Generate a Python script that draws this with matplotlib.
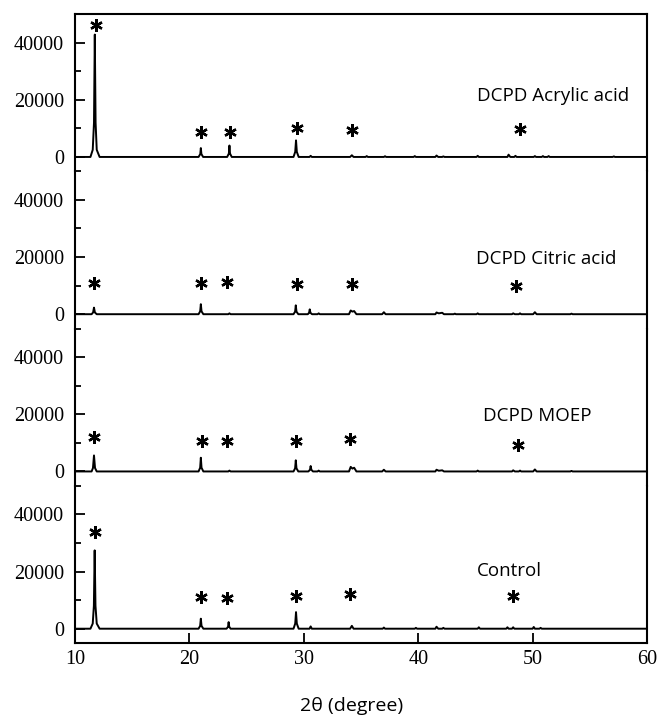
import matplotlib
matplotlib.use("Agg")
import matplotlib.pyplot as plt
from matplotlib.ticker import MultipleLocator

plt.rcParams["font.family"] = "Liberation Serif"
plt.rcParams["xtick.labelsize"] = 14.5
plt.rcParams["ytick.labelsize"] = 14.5

# XRD traces as (2theta, intensity) vertices
acrylic = [
    (10.0, 0),
    (11.35, 0), (11.55, 2500), (11.66, 12000), (11.73, 42800), (11.80, 12000), (11.90, 2500), (12.15, 0),
    (20.80, 0), (20.95, 1000), (21.00, 3100), (21.05, 1000), (21.20, 0),
    (23.30, 0), (23.45, 1200), (23.50, 4000), (23.55, 1200), (23.70, 0),
    (29.10, 0), (29.25, 1800), (29.32, 5800), (29.39, 1800), (29.55, 0),
    (30.50, 0), (30.60, 400), (30.70, 0),
    (34.05, 0), (34.20, 600), (34.35, 0),
    (35.40, 0), (35.50, 300), (35.60, 0),
    (37.00, 0), (37.10, 250), (37.20, 0),
    (39.60, 0), (39.70, 300), (39.80, 0),
    (41.50, 0), (41.60, 500), (41.75, 0), (42.10, 0), (42.20, 200), (42.30, 0),
    (45.10, 0), (45.20, 400), (45.30, 0),
    (47.80, 0), (47.90, 800), (48.05, 0), (48.40, 0), (48.50, 400), (48.60, 0),
    (50.10, 0), (50.20, 300), (50.30, 0), (50.80, 0), (50.90, 300), (51.00, 0),
    (51.30, 0), (51.40, 300), (51.50, 0),
    (57.00, 0), (57.10, 200), (57.20, 0),
    (60.0, 0),
]
citric = [
    (10.0, 0),
    (11.45, 0), (11.58, 600), (11.66, 2300), (11.74, 600), (11.90, 0),
    (20.80, 0), (20.94, 1000), (21.00, 3500), (21.06, 1000), (21.22, 0),
    (23.40, 0), (23.50, 300), (23.60, 0),
    (29.10, 0), (29.24, 900), (29.30, 3100), (29.36, 900), (29.52, 0),
    (30.35, 0), (30.46, 500), (30.52, 1700), (30.58, 500), (30.72, 0),
    (31.20, 0), (31.30, 300), (31.40, 0),
    (33.95, 0), (34.10, 1300), (34.25, 900), (34.40, 1100), (34.60, 0),
    (36.85, 0), (37.00, 700), (37.15, 0),
    (41.50, 0), (41.60, 600), (41.80, 300), (42.10, 500), (42.25, 0),
    (43.10, 0), (43.20, 200), (43.30, 0),
    (45.10, 0), (45.20, 300), (45.30, 0),
    (48.20, 0), (48.30, 300), (48.45, 0), (48.80, 0), (48.90, 300), (49.00, 0),
    (50.05, 0), (50.20, 700), (50.35, 0),
    (53.30, 0), (53.40, 200), (53.50, 0),
    (60.0, 0),
]
moep = [
    (10.0, 0),
    (11.45, 0), (11.57, 1200), (11.66, 5600), (11.75, 1200), (11.90, 0),
    (20.80, 0), (20.94, 1300), (21.00, 4800), (21.06, 1300), (21.22, 0),
    (23.40, 0), (23.50, 300), (23.60, 0),
    (29.10, 0), (29.24, 1100), (29.30, 3900), (29.36, 1100), (29.52, 0),
    (30.40, 0), (30.54, 600), (30.60, 1900), (30.66, 600), (30.80, 0),
    (31.20, 0), (31.30, 300), (31.40, 0),
    (33.95, 0), (34.10, 1600), (34.25, 1000), (34.40, 1300), (34.60, 0),
    (36.85, 0), (37.00, 600), (37.15, 0),
    (41.50, 0), (41.60, 600), (41.80, 250), (42.10, 400), (42.25, 0),
    (45.10, 0), (45.20, 300), (45.30, 0),
    (48.20, 0), (48.30, 400), (48.45, 0), (48.80, 0), (48.90, 300), (49.00, 0),
    (50.05, 0), (50.20, 700), (50.35, 0),
    (53.30, 0), (53.40, 200), (53.50, 0),
    (60.0, 0),
]
control = [
    (10.0, 0),
    (11.35, 0), (11.55, 1800), (11.65, 8000), (11.72, 27400), (11.79, 8000), (11.90, 1800), (12.15, 0),
    (20.80, 0), (20.94, 1000), (21.00, 3500), (21.06, 1000), (21.22, 0),
    (23.25, 0), (23.38, 700), (23.43, 2300), (23.48, 700), (23.60, 0),
    (29.10, 0), (29.25, 1800), (29.32, 5800), (29.39, 1800), (29.55, 0),
    (30.50, 0), (30.60, 800), (30.70, 0),
    (34.05, 0), (34.20, 1000), (34.35, 0),
    (36.90, 0), (37.00, 400), (37.10, 0),
    (39.70, 0), (39.80, 300), (39.90, 0),
    (41.50, 0), (41.60, 700), (41.75, 0), (42.10, 0), (42.20, 300), (42.30, 0),
    (45.20, 0), (45.30, 500), (45.40, 0),
    (47.70, 0), (47.80, 500), (47.90, 0), (48.20, 0), (48.30, 500), (48.40, 0),
    (50.00, 0), (50.10, 600), (50.20, 0), (50.60, 0), (50.70, 300), (50.80, 0),
    (60.0, 0),
]

# asterisk positions marking the DCPD reflections
stars_acrylic = [(11.8, 46100), (21.0, 8900), (23.55, 8900), (29.4, 10000), (34.2, 9400), (48.9, 9700)]
stars_citric = [(11.66, 10800), (21.0, 10800), (23.3, 11300), (29.4, 10500), (34.2, 10500), (48.55, 9700)]
stars_moep = [(11.66, 12000), (21.06, 10500), (23.3, 10800), (29.3, 10800), (34.05, 11400), (48.75, 9300)]
stars_control = [(11.75, 33800), (21.0, 11000), (23.3, 10800), (29.3, 11600), (34.05, 12000), (48.3, 11300)]

labels = ["DCPD Acrylic acid", "DCPD Citric acid", "DCPD MOEP", "Control"]
traces = [acrylic, citric, moep, control]
stars = [stars_acrylic, stars_citric, stars_moep, stars_control]
label_pos = [(58.4, 19500, "right"), (51.2, 17500, "center"), (50.4, 17650, "center"), (48.0, 18600, "center")]

fig = plt.figure(figsize=(6.57, 7.16), dpi=100)
W, H = 657, 716
left_px, right_px, top_px, bot_px = 75, 647, 14, 643
ph = (bot_px - top_px) / 4

axes = []
for i in range(4):
    y0 = 1 - (top_px + (i + 1) * ph) / H
    ax = fig.add_axes([left_px / W, y0, (right_px - left_px) / W, ph / H])
    axes.append(ax)

for i, ax in enumerate(axes):
    xs = [p[0] for p in traces[i]]
    ys = [p[1] for p in traces[i]]
    ax.plot(xs, ys, color="black", lw=1.4)
    sx = [p[0] for p in stars[i]]
    sy = [p[1] for p in stars[i]]
    ax.plot(sx, sy, ls="none", marker=(6, 2, 0), ms=9, mew=1.7, color="black")
    lx, ly, lha = label_pos[i]
    ax.text(lx, ly, labels[i], family="Open Sans", fontsize=13.5, ha=lha, va="baseline")

    ax.set_xlim(10, 60)
    ax.set_ylim(-5000, 50000)
    ax.yaxis.set_major_locator(MultipleLocator(20000))
    ax.yaxis.set_minor_locator(MultipleLocator(10000))
    ax.tick_params(axis="y", which="major", direction="in", length=7, width=1.3, pad=8, right=False)
    ax.tick_params(axis="y", which="minor", direction="in", length=4, width=1.3, right=False)
    ax.xaxis.set_major_locator(MultipleLocator(10))
    last = i == 3
    ax.tick_params(axis="x", direction="in", length=7, width=1.3, pad=5,
                   bottom=last, labelbottom=last, top=False)
    for s in ax.spines.values():
        s.set_linewidth(1.5)
    if i > 0:
        ax.spines["top"].set_visible(False)
    if not last:
        ax.spines["bottom"].set_visible(False)

axes[-1].set_xlabel("2θ (degree)", family="Open Sans", fontsize=14)
axes[-1].xaxis.label.set_va("center")
axes[-1].xaxis.set_label_coords((352 - left_px) / (right_px - left_px), -(706 - bot_px) / ph)

fig.savefig("out.png", dpi=100)
